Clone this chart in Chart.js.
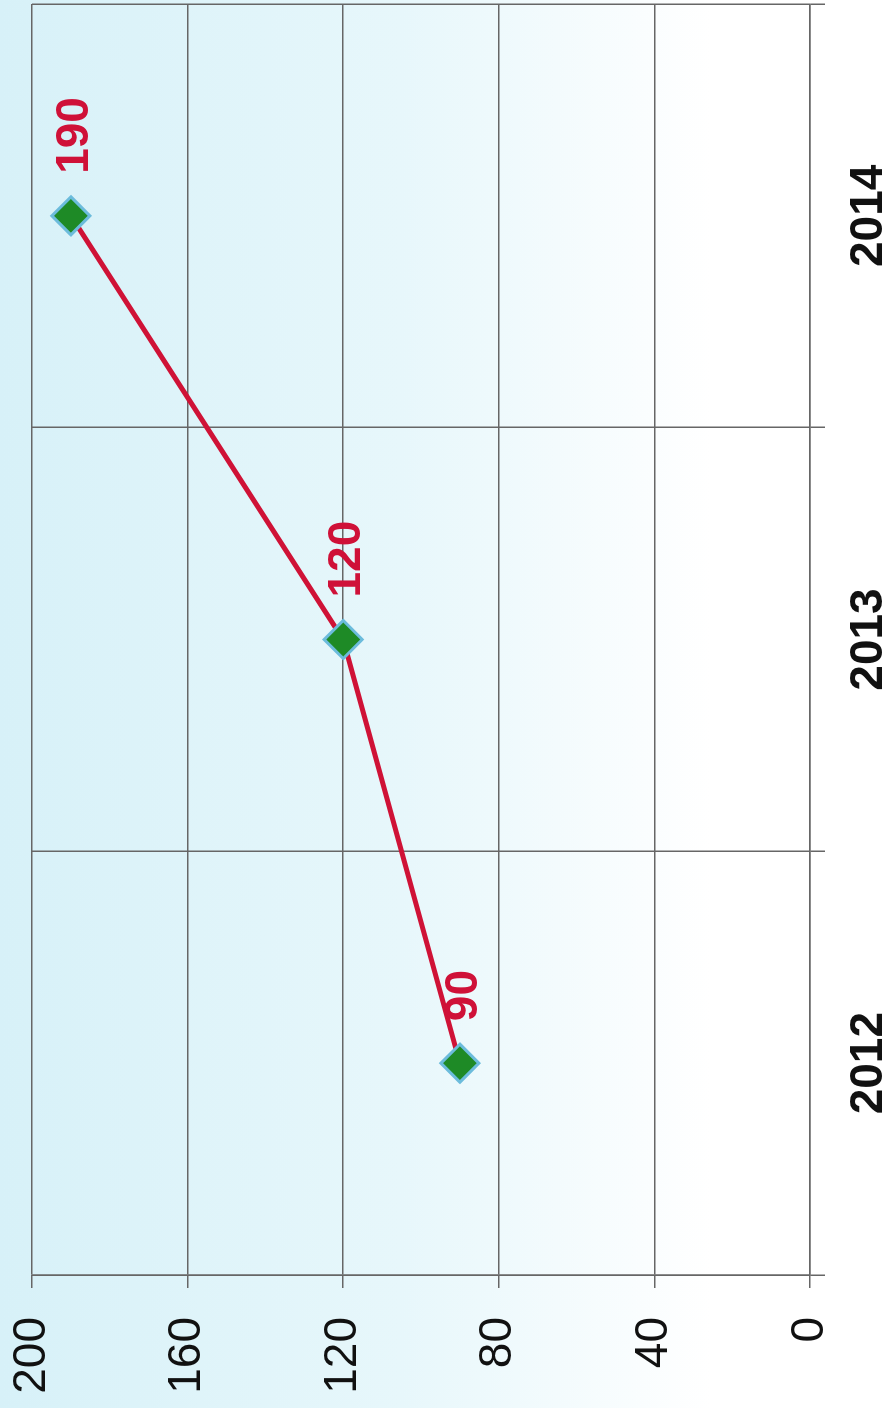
<!DOCTYPE html>
<html>
<head>
<meta charset="utf-8">
<script src="https://cdn.jsdelivr.net/npm/chart.js@4/dist/chart.umd.min.js"></script>
<style>
  html, body { margin: 0; padding: 0; background: #ffffff; overflow: hidden; }
  #wrap { position: relative; width: 889px; height: 1408px; }
  /* chart is drawn upright, then turned a quarter left like the scan */
  #chart {
    position: absolute; left: 0; top: 0;
    transform-origin: 0 0;
    transform: translateY(1408px) rotate(-90deg);
  }
</style>
</head>
<body>
<div id="wrap">
  <canvas id="chart" width="1408" height="889"></canvas>
</div>
<script>
// ---- data ----
const years = ['2012', '2013', '2014'];
const values = [90, 120, 190];
const valueTicks = [0, 40, 80, 120, 160, 200];

// ---- plugins ----
const bgPlugin = {
    id: 'bg',
    beforeDraw(chart) {
        const ctx = chart.ctx;
        const g = ctx.createLinearGradient(0, 0, 0, chart.height);
        g.addColorStop(0, '#d7f1f8');
        g.addColorStop(0.45, '#e7f7fb');
        g.addColorStop(0.8, '#ffffff');
        ctx.save();
        ctx.fillStyle = g;
        ctx.fillRect(0, 0, chart.width, chart.height);
        ctx.restore();
    }
};

const labelPlugin = {
    id: 'pointLabels',
    afterDatasetsDraw(chart) {
        const ctx = chart.ctx;
        const meta = chart.getDatasetMeta(0);
        ctx.save();
        ctx.font = 'bold 46px "Liberation Sans", Arial, sans-serif';
        ctx.fillStyle = '#cf1138';
        ctx.textAlign = 'left';
        ctx.textBaseline = 'middle';
        meta.data.forEach(function(pt, i) {
            ctx.fillText(String(values[i]), pt.x + 42, pt.y + 4);
        });
        ctx.restore();
    }
};

// ---- chart ----
const ctx = document.getElementById('chart').getContext('2d');
const chart = new Chart(ctx, {
    type: 'line',
    data: {
        labels: years,
        datasets: [{
            data: values,
            borderColor: '#cf1236',
            borderWidth: 5,
            pointStyle: 'rectRot',
            pointRadius: 19,
            pointBackgroundColor: '#1e8a26',
            pointBorderColor: '#6cbcdc',
            pointBorderWidth: 3,
            tension: 0
        }]
    },
    options: {
        responsive: false,
        animation: false,
        layout: { autoPadding: false, padding: { top: 32, right: 4, left: 0, bottom: 0 } },
        plugins: {
            legend: { display: false },
            tooltip: { enabled: false }
        },
        scales: {
            x: {
                offset: true,
                grid: { offset: true, color: '#666666', lineWidth: 1.5, tickLength: 15 },
                border: { color: '#666666', width: 1.5 },
                ticks: {
                    color: '#111111',
                    padding: 17,
                    maxRotation: 0,
                    font: { family: '"Liberation Sans", Arial, sans-serif', size: 46, weight: 'bold' }
                },
                afterFit(scale) {
                    scale.height = 79;
                    scale.paddingLeft = 0;
                    scale.paddingRight = 0;
                }
            },
            y: {
                min: 0,
                max: 200,
                afterBuildTicks(scale) {
                    scale.ticks = valueTicks.map(v => ({ value: v }));
                },
                grid: { color: '#666666', lineWidth: 1.5, tickLength: 13 },
                border: { color: '#666666', width: 1.5 },
                ticks: {
                    color: '#111111',
                    padding: 29,
                    font: { family: '"Liberation Sans", Arial, sans-serif', size: 46 }
                },
                afterFit(scale) {
                    scale.width = 133;
                    scale.paddingTop = 0;
                    scale.paddingBottom = 0;
                }
            }
        }
    },
    plugins: [bgPlugin, labelPlugin]
});
</script>
</body>
</html>
